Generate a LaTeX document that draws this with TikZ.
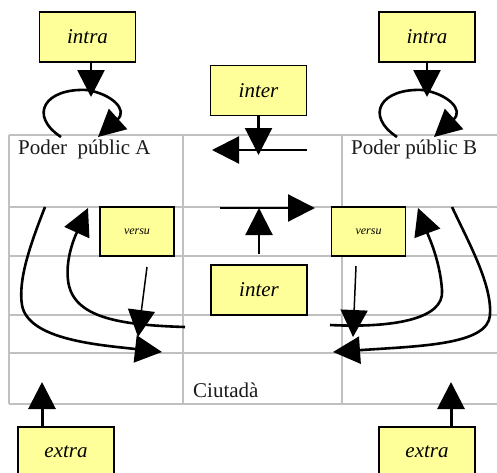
\documentclass[tikz,border=0pt]{standalone}
\usepackage{fontspec}
\setmainfont{Liberation Serif}
\usetikzlibrary{arrows.meta}
\definecolor{boxyellow}{HTML}{FFFF99}
\definecolor{gridgray}{HTML}{C0C0C0}
\definecolor{txt}{HTML}{1A1A1A}
\begin{document}
\begin{tikzpicture}[x=1pt,y=-1pt,
  gridline/.style={draw=gridgray, line width=1.2pt},
  ybox/.style={draw=black, line width=1.5pt, fill=boxyellow, inner sep=0pt,
    minimum width=96pt, minimum height=50pt, font=\fontsize{21}{24}\selectfont\itshape},
  vbox/.style={draw=black, line width=1.5pt, fill=boxyellow, inner sep=0pt,
    minimum width=74pt, minimum height=49pt, font=\fontsize{12}{14}\selectfont\itshape},
  lbl/.style={inner sep=0pt, text=txt, font=\fontsize{21}{24}\selectfont},
  big/.style={-{Triangle[length=27pt,width=27pt]}},
  thickline/.style={line width=2.6pt, big},
  midline/.style={line width=2.2pt, big},
  thinline/.style={line width=1.5pt, big},
  extraline/.style={line width=3pt, big}
]
\clip (0,0) rectangle (497,472);
% grid
\foreach \y in {135,207,256,315,353,404} \draw[gridline] (9,\y) -- (497,\y);
\foreach \x in {9,183,342} \draw[gridline] (\x,135) -- (\x,404);

% boxes
\node[ybox] (intraA) at (87.5,37) {intra\hspace{8pt}};
\node[ybox] (intraB) at (427,37) {intra\hspace{8pt}};
\node[ybox] (interT) at (258.5,90.5) {inter\hspace{10pt}};
\node[ybox] (interB) at (259,290) {inter\hspace{10pt}};
\node[vbox] (versuA) at (137,231.5) {versu};
\node[vbox] (versuB) at (368.5,231.5) {versu};
\node[ybox] (extraA) at (66,452) {extra\hspace{8pt}};
\node[ybox] (extraB) at (427,452) {extra\hspace{8pt}};

% texts
\node[lbl, anchor=base west] (pA) at (18,154) {Poder\ \ públic A};
\node[lbl, anchor=base west] (pB) at (351,154) {Poder públic B};
\node[lbl, anchor=base west] (ciu) at (193,397) {Ciutadà};

% coordinates
\coordinate (iaTip) at (91,97);
\coordinate (ibTip) at (427,97);
\coordinate (loopAs) at (61,137);
\coordinate (loopAe) at (98,137);
\coordinate (loopBs) at (397,137);
\coordinate (loopBe) at (434,137);
\coordinate (itTip) at (258.5,155);
\coordinate (h1s) at (307,150);
\coordinate (h1e) at (212,150);
\coordinate (h2s) at (220,208);
\coordinate (h2e) at (315,208);
\coordinate (ibS) at (259,254);
\coordinate (ibE) at (259,208);
\coordinate (vaS) at (147,267);
\coordinate (vaE) at (138,337);
\coordinate (vbS) at (356,266);
\coordinate (vbE) at (353,337);
\coordinate (eaTip) at (42,382);
\coordinate (ebTip) at (451,382);
\coordinate (oaS) at (45,207);
\coordinate (oaE) at (162,352);
\coordinate (iaS) at (185,327);
\coordinate (iaE) at (88,208);
\coordinate (obS) at (452,207);
\coordinate (obE) at (333,352);
\coordinate (ibS2) at (330,325);
\coordinate (ibE2) at (418,208);

% intra arrows and loops
\draw[thickline] (intraA.south -| iaTip) -- (iaTip);
\draw[thickline] (intraB.south -| ibTip) -- (ibTip);
\draw[thickline] (loopAs) .. controls (28,115) and (45,88) .. (87,90)
  .. controls (112,94) and (128,110) .. (loopAe);
\draw[thickline] (loopBs) .. controls (364,115) and (381,88) .. (423,90)
  .. controls (448,94) and (464,110) .. (loopBe);

% inter arrows
\draw[midline] (interT.south) -- (itTip);
\draw[midline] (h1s) -- (h1e);
\draw[midline] (h2s) -- (h2e);
\draw[midline] (ibS) -- (ibE);

% versu arrows
\draw[thinline] (vaS) -- (vaE);
\draw[thinline] (vbS) -- (vbE);

% big curves
\draw[thickline] (oaS) .. controls (30,245) and (18,280) .. (22,305)
  .. controls (28,340) and (100,345) .. (oaE);
\draw[thickline] (iaS) .. controls (120,325) and (72,318) .. (68,280)
  .. controls (65,255) and (78,230) .. (iaE);
\draw[thickline] (obS) .. controls (470,245) and (492,285) .. (490,315)
  .. controls (488,345) and (420,346) .. (obE);
\draw[thickline] (ibS2) .. controls (390,328) and (445,320) .. (442,290)
  .. controls (440,260) and (428,235) .. (ibE2);

% extra arrows
\draw[extraline] (extraA.north -| eaTip) -- (eaTip);
\draw[extraline] (extraB.north -| ebTip) -- (ebTip);
\end{tikzpicture}
\end{document}
